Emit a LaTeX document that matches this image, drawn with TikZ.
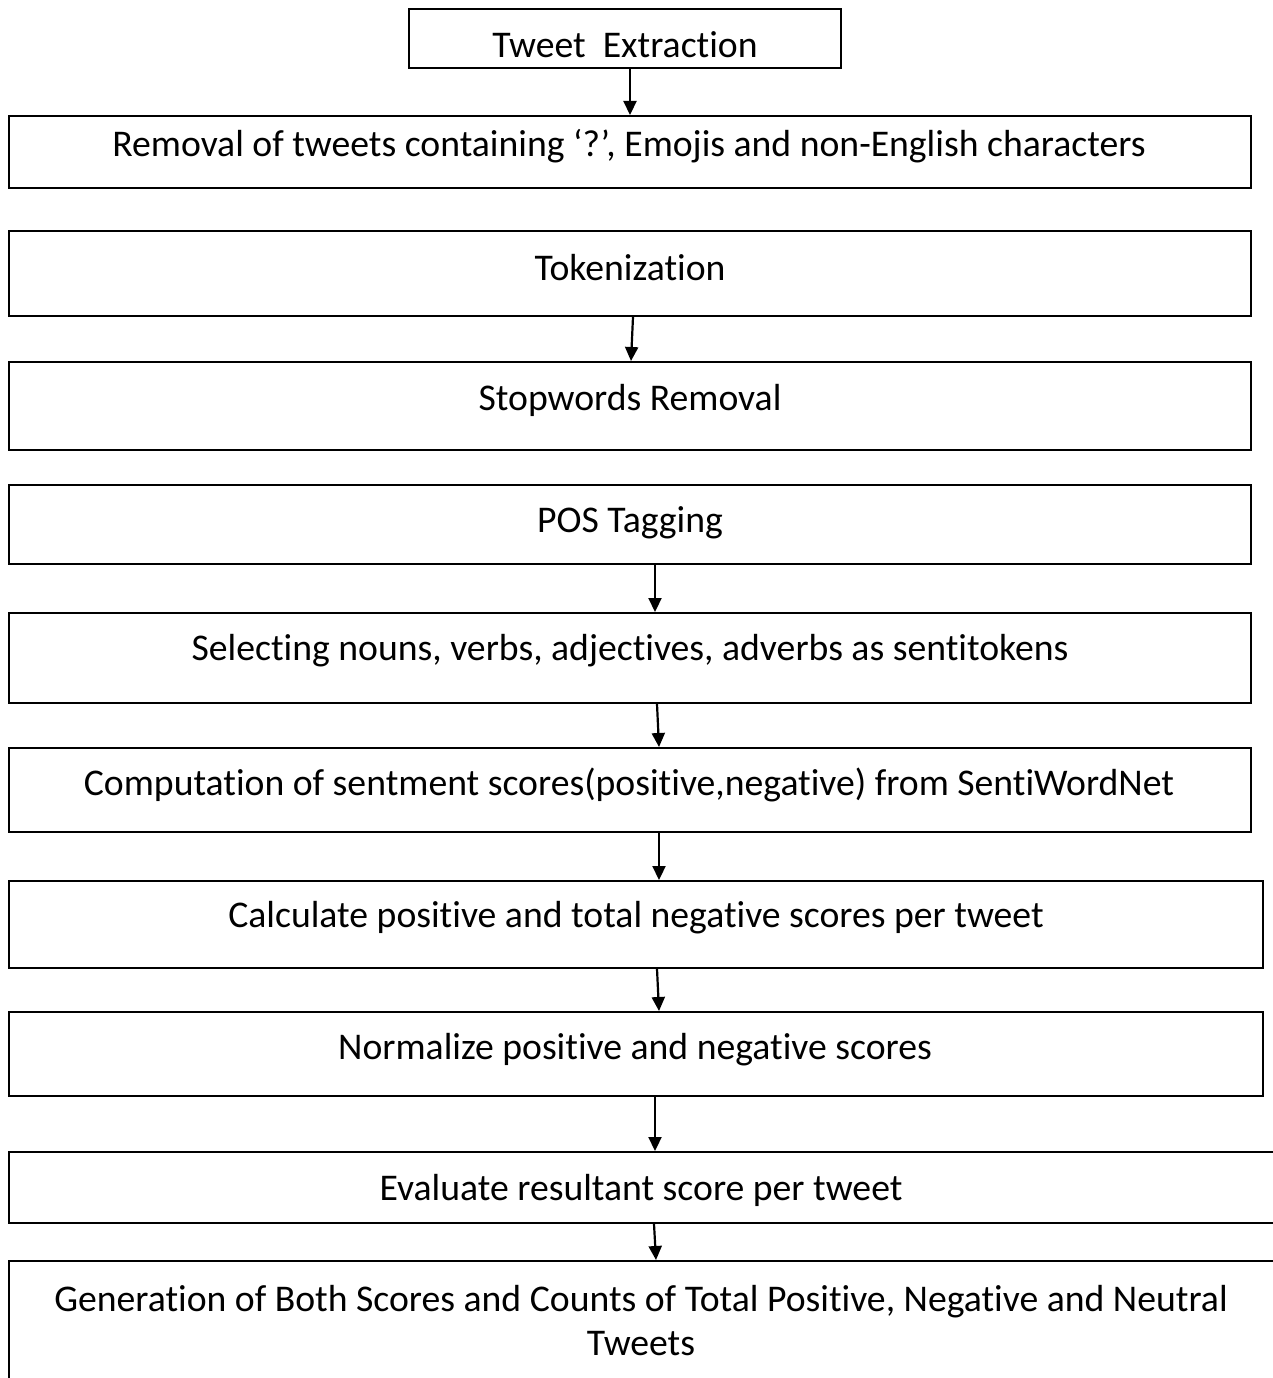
\documentclass[tikz,border=0pt]{standalone}
\usepackage{fontspec}
\setmainfont{Carlito}[RawFeature={-liga;-clig;-calt;-dlig}]
\usetikzlibrary{arrows.meta}
\begin{document}
\begin{tikzpicture}[x=1pt,y=-1pt,
  box/.style={draw=black, line width=2pt, rectangle, inner sep=0pt, fill=white},
  lbl/.style={inner sep=0pt, font=\fontsize{37.7}{44}\selectfont, align=center},
  arr/.style={line width=2.2pt, -{Triangle[width=13pt,length=14pt]}}]
\useasboundingbox (0,0) rectangle (1272,1378);
\fill[white] (0,0) rectangle (1272,1378);
% boxes
\node[box, minimum width=432pt, minimum height=59pt] (b1) at (625,38.5) {};
\node[box, minimum width=1242pt, minimum height=72pt] (b2) at (630,152) {};
\node[box, minimum width=1242pt, minimum height=85pt] (b3) at (630,273.5) {};
\node[box, minimum width=1242pt, minimum height=88pt] (b4) at (630,406) {};
\node[box, minimum width=1242pt, minimum height=79pt] (b5) at (630,524.5) {};
\node[box, minimum width=1242pt, minimum height=90pt] (b6) at (630,658) {};
\node[box, minimum width=1242pt, minimum height=84pt] (b7) at (630,790) {};
\node[box, minimum width=1254pt, minimum height=87pt] (b8) at (636,924.5) {};
\node[box, minimum width=1254pt, minimum height=84pt] (b9) at (636,1054) {};
\node[box, minimum width=1281pt, minimum height=71pt] (b10) at (649.5,1187.5) {};
\node[box, minimum width=1281pt, minimum height=139pt] (b11) at (649.5,1330.5) {};
% texts
\node[lbl] (t1) at (625,45) {Tweet\ \ Extraction};
\node[lbl] (t2) at (629,146) {Removal of tweets containing ‘?’, Emojis and non-English characters};
\node[lbl] (t3) at (630,268) {Tokenization};
\node[lbl] (t4) at (630,400) {Stopwords Removal};
\node[lbl] (t5) at (630,523) {POS Tagging};
\node[lbl] (t6) at (630,651) {Selecting nouns, verbs, adjectives, adverbs as sentitokens};
\node[lbl] (t7) at (629,785) {Computation of sentment scores(positive,negative) from SentiWordNet};
\node[lbl] (t8) at (636,918) {Calculate positive and total negative scores per tweet};
\node[lbl] (t9) at (635,1050) {Normalize positive and negative scores};
\node[lbl] (t10) at (641,1190) {Evaluate resultant score per tweet};
\node[lbl] (t11) at (641,1321) {Generation of Both Scores and Counts of Total Positive, Negative and Neutral\\Tweets};
% arrows
\draw[arr] ([xshift=5pt]b1.south) -- (b2.north);
\draw[arr] ([xshift=3pt]b3.south) -- ([xshift=1pt]b4.north);
\draw[arr] ([xshift=25pt]b5.south) -- ([xshift=25pt]b6.north);
\draw[arr] ([xshift=27pt]b6.south) -- ([xshift=29pt]b7.north);
\draw[arr] ([xshift=29pt]b7.south) -- ([xshift=23pt]b8.north);
\draw[arr] ([xshift=21pt]b8.south) -- ([xshift=23pt]b9.north);
\draw[arr] ([xshift=19pt]b9.south) -- ([xshift=5.5pt]b10.north);
\draw[arr] ([xshift=4.5pt]b10.south) -- ([xshift=6.5pt]b11.north);
\end{tikzpicture}
\end{document}
